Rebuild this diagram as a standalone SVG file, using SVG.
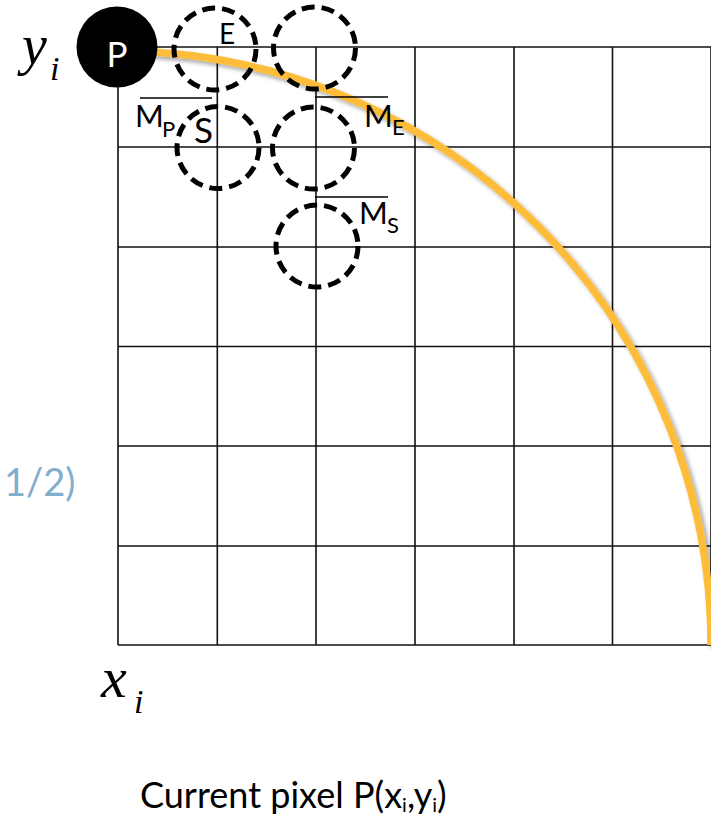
<svg xmlns="http://www.w3.org/2000/svg" width="711" height="818" viewBox="0 0 711 818">
  <defs>
    <style>
      .grid line { stroke: #111; stroke-width: 1.6; }
      .dash { fill: none; stroke: #000; stroke-width: 5; stroke-dasharray: 13 7; }
      .sans { font-family: Lato, "Open Sans", "Noto Sans", sans-serif; fill: #000; }
      .math { font-family: "Liberation Serif", "Times New Roman", serif; font-style: italic; fill: #000; }
      .ovl { stroke: #000; stroke-width: 1.6; }
    </style>
    <filter id="shadow" x="-10%" y="-10%" width="120%" height="120%">
      <feGaussianBlur in="SourceAlpha" stdDeviation="2"/>
      <feOffset dx="3" dy="3" result="b"/>
      <feComponentTransfer><feFuncA type="linear" slope="0.35"/></feComponentTransfer>
      <feMerge><feMergeNode/><feMergeNode in="SourceGraphic"/></feMerge>
    </filter>
  </defs>
  <rect width="711" height="818" fill="#fff"/>

  <g id="grid" class="grid">
    <line x1="118" y1="47" x2="711" y2="47"/>
    <line x1="118" y1="147" x2="711" y2="147"/>
    <line x1="118" y1="247" x2="711" y2="247"/>
    <line x1="118" y1="346.5" x2="711" y2="346.5"/>
    <line x1="118" y1="446" x2="711" y2="446"/>
    <line x1="118" y1="546" x2="711" y2="546"/>
    <line x1="118" y1="645" x2="711" y2="645"/>
    <line x1="118" y1="47" x2="118" y2="645"/>
    <line x1="217.3" y1="47" x2="217.3" y2="645"/>
    <line x1="316" y1="47" x2="316" y2="645"/>
    <line x1="415" y1="47" x2="415" y2="645"/>
    <line x1="514" y1="47" x2="514" y2="645"/>
    <line x1="612.5" y1="47" x2="612.5" y2="645"/>
    <line x1="711" y1="47" x2="711" y2="645"/>
  </g>

  <g id="connectors">
    <path id="arc" d="M 117 51 A 594 594 0 0 1 711 645" fill="none" stroke="#FDBD3A" stroke-width="7.5" filter="url(#shadow)"/>
  </g>

  <g id="node-E"><circle class="dash" cx="215" cy="49" r="41"/></g>
  <g id="node-NE"><circle class="dash" cx="314.5" cy="48" r="41"/></g>
  <g id="node-S"><circle class="dash" cx="218" cy="147.5" r="41"/></g>
  <g id="node-SE"><circle class="dash" cx="313.5" cy="148" r="41"/></g>
  <g id="node-SS"><circle class="dash" cx="317" cy="246" r="41"/></g>

  <g id="node-P">
    <circle cx="117" cy="47" r="40.5" fill="#000"/>
    <text class="sans" x="117" y="67" font-size="35" text-anchor="middle" style="fill:#fff">P</text>
  </g>

  <g id="labels">
    <text class="sans" x="219" y="44" font-size="28">E</text>
    <text class="sans" x="194" y="143" font-size="35">S</text>

    <line class="ovl" x1="140" y1="98" x2="212" y2="98"/>
    <text class="sans" x="135" y="127" font-size="31">M<tspan x="162" y="137" font-size="22">P</tspan></text>

    <line class="ovl" x1="315" y1="97" x2="388" y2="97"/>
    <text class="sans" x="364" y="127" font-size="31">M<tspan x="392" y="135" font-size="22">E</tspan></text>

    <line class="ovl" x1="315" y1="197" x2="388" y2="197"/>
    <text class="sans" x="359" y="224" font-size="31">M<tspan x="387" y="233" font-size="22">S</tspan></text>

    <text class="math" x="22" y="64" font-size="56">y<tspan x="50" y="80" font-size="34">i</tspan></text>
    <text class="math" x="101" y="697" font-size="58">x<tspan x="134" y="713" font-size="34">i</tspan></text>

    <text class="sans" x="4" y="496" font-size="38" style="fill:#80AECF">1/2)</text>

    <text class="sans" x="140" y="808" font-size="36">Current pixel P(x<tspan font-size="20" dy="4">i</tspan><tspan dy="-4">,y</tspan><tspan font-size="20" dy="4">i</tspan><tspan dy="-4">)</tspan></text>
  </g>
</svg>
